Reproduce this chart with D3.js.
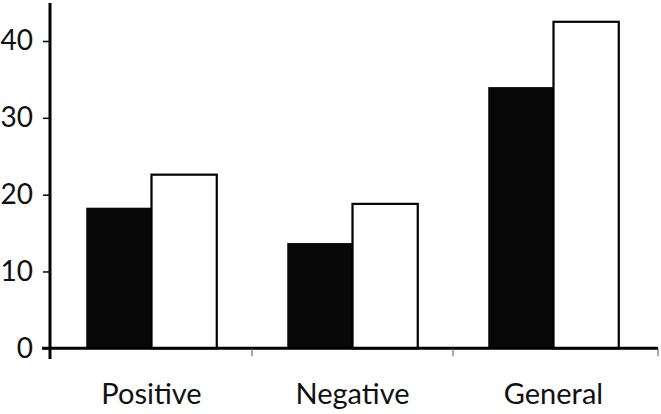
<!DOCTYPE html>
<html><head><meta charset="utf-8">
<script src="https://cdn.jsdelivr.net/npm/d3@7"></script>
<style>html,body{margin:0;padding:0;background:#fff;}svg{display:block;}</style>
</head><body>
<script>
const categories = ["Positive", "Negative", "General"];
const seriesA = [18.3, 13.7, 34.0];   // black bars
const seriesB = [22.6, 18.8, 42.5];   // white bars
const yTicks = [0, 10, 20, 30, 40];

const W = 661, H = 414;
const svg = d3.select("body").append("svg").attr("width", W).attr("height", H);

const y = d3.scaleLinear().domain([0, 40]).range([348.3, 41]);
const x = d3.scaleBand().domain(categories).range([51, 654]);
const inner = d3.scaleBand().domain(["a", "b"]).range([0, x.bandwidth()]).paddingOuter(0.54).paddingInner(0);

const font = "Lato, 'Open Sans', sans-serif";

// bars
categories.forEach((c, i) => {
  const x0 = x(c);
  svg.append("rect")
    .attr("x", x0 + inner("a")).attr("y", y(seriesA[i]))
    .attr("width", inner.bandwidth()).attr("height", y(0) - y(seriesA[i]))
    .attr("fill", "#080808");
  svg.append("rect")
    .attr("x", x0 + inner("b")).attr("y", y(seriesB[i]))
    .attr("width", inner.bandwidth()).attr("height", y(0) - y(seriesB[i]))
    .attr("fill", "#fff").attr("stroke", "#000").attr("stroke-width", 2.2);
});

// y axis
const yAxis = d3.axisLeft(y).tickValues(yTicks).tickSize(7).tickPadding(10);
const gy = svg.append("g").attr("transform", "translate(50,0)").call(yAxis);
gy.select(".domain").remove();
gy.selectAll(".tick line").attr("stroke", "#000").attr("stroke-width", 1.5);
gy.selectAll(".tick text").attr("font-family", font).attr("font-size", 28).attr("fill", "#111");
svg.append("line").attr("x1", 50).attr("x2", 50).attr("y1", 3).attr("y2", 359)
  .attr("stroke", "#000").attr("stroke-width", 3);

// x axis
const xAxis = d3.axisBottom(x).tickSize(0).tickPadding(35);
const gx = svg.append("g").attr("transform", `translate(0,${y(0)})`).call(xAxis);
gx.select(".domain").remove();
gx.selectAll(".tick text").attr("font-family", font).attr("font-size", 29).attr("fill", "#111");
svg.append("line").attr("x1", 42).attr("x2", 658).attr("y1", y(0)).attr("y2", y(0))
  .attr("stroke", "#000").attr("stroke-width", 3);
// category separators
const seps = categories.slice(1).map(c => x(c)).concat([x.range()[1] + 4]);
svg.selectAll(".sep").data(seps).enter().append("line")
  .attr("x1", d => d).attr("x2", d => d).attr("y1", y(0)).attr("y2", y(0) + 8)
  .attr("stroke", "#555").attr("stroke-width", 1);
</script>
</body></html>
